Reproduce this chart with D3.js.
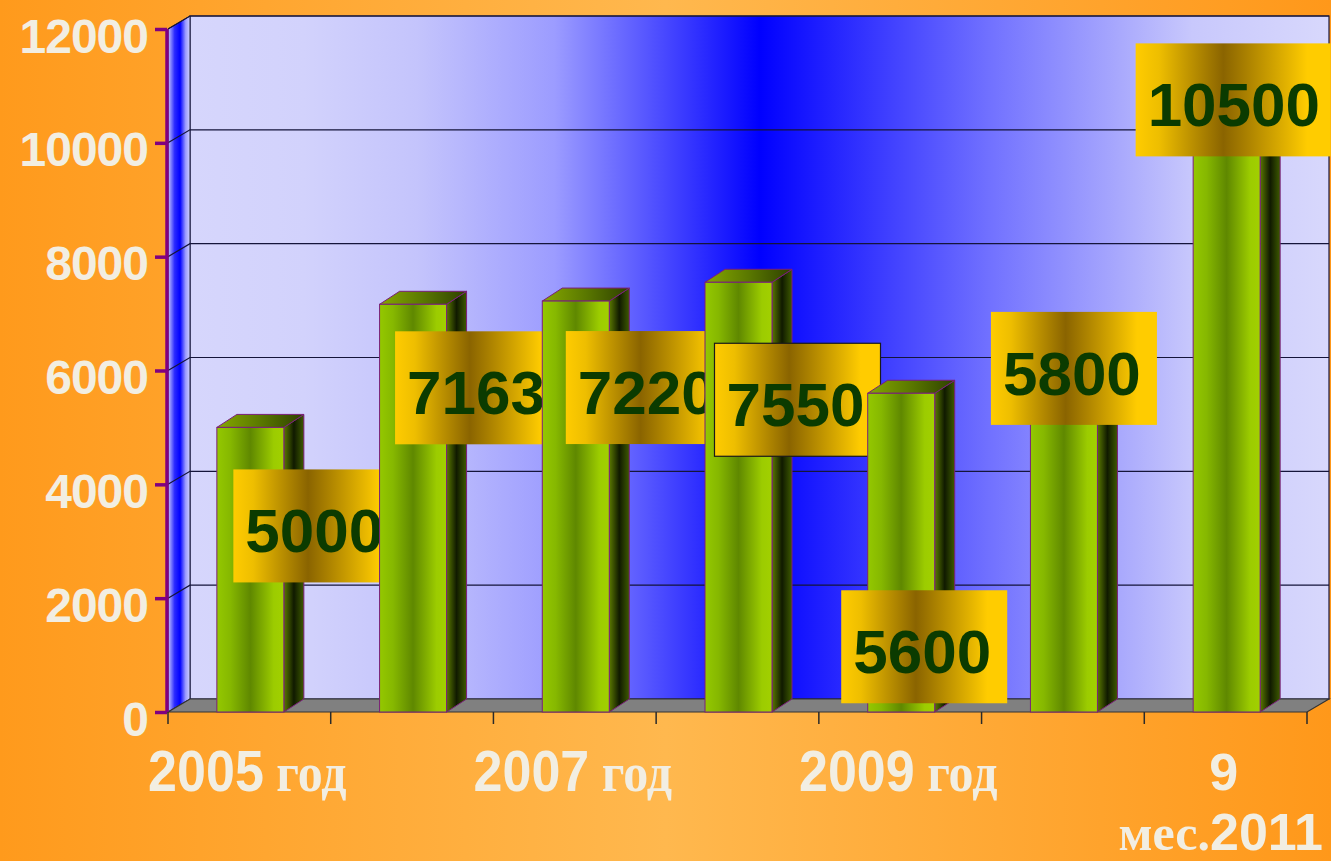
<!DOCTYPE html>
<html>
<head>
<meta charset="utf-8">
<script src="https://cdn.jsdelivr.net/npm/d3@7"></script>
<style>
  html, body { margin: 0; padding: 0; overflow: hidden; }
  svg { display: block; }
</style>
</head>
<body>
<svg id="chart" width="1331" height="861"></svg>
<script>
var categories = ["2005 год", "2006 год", "2007 год", "2008 год", "2009 год", "2010 год", "9 мес.2011"];
var values = [5000, 7163, 7220, 7550, 5600, 5800, 10500];
var yTicks = [0, 2000, 4000, 6000, 8000, 10000, 12000];
var shownCategories = ["2005 год", "2007 год", "2009 год", "9 мес.2011"];

// hand-placed data labels: shift of the box from the top of its bar
var labelShift = [[-17, 42], [-18, 27], [-10, 30], [-24, 61], [-60, 197], [-73, -70], [-91, -71]];
var labelBorder = [false, false, false, true, false, false, false];

var CHART = {
    W: 1331,
    H: 861,
    left: 168,
    right: 1307,
    top: 29,
    bottom: 712,
    depthX: 22,
    depthY: 13,
    barDX: 20,
    barDY: 13,
    barW: 67,
    boxH: 113,
    textColor: "#f2eee2",
    labelColor: "#0b3b00",
    purple: "#800080"
};

var svg = d3.select("#chart");
var defs = svg.append("defs");

function linGrad(id, stops) {
    var g = defs.append("linearGradient")
        .attr("id", id)
        .attr("x1", "0").attr("y1", "0")
        .attr("x2", "1").attr("y2", "0");
    stops.forEach(function (s) {
        g.append("stop").attr("offset", s[0]).attr("stop-color", s[1]);
    });
}

linGrad("bgGrad", [[0, "#ff9a1c"], [0.5, "#ffb84e"], [1, "#ff981a"]]);
linGrad("wallGrad", [[0, "#d6d6fc"], [0.1, "#d2d2fc"], [0.2, "#c4c4fc"], [0.32, "#9c9cff"], [0.5, "#0000ff"], [0.7, "#7070ff"], [0.88, "#c8c8fc"], [1, "#d8d8fc"]]);
linGrad("sideWallGrad", [[0, "#c8c8ff"], [0.3, "#2a2aff"], [0.55, "#0000ff"], [0.8, "#9a9aff"], [1, "#d0d0fc"]]);
linGrad("barFront", [[0, "#94c800"], [0.2, "#86b800"], [0.5, "#5f8800"], [0.85, "#9ccc00"], [1, "#a2d000"]]);
linGrad("barSide", [[0, "#5a7800"], [0.5, "#101a00"], [1, "#3e5a00"]]);
linGrad("barTop", [[0, "#86a800"], [0.5, "#5a7800"], [1, "#2e4000"]]);
linGrad("boxGrad", [[0, "#ffcc00"], [0.12, "#eebe00"], [0.45, "#8a6400"], [0.88, "#ffcc00"], [1, "#ffcc00"]]);

svg.append("rect")
    .attr("width", CHART.W)
    .attr("height", CHART.H)
    .attr("fill", "url(#bgGrad)");

var x = d3.scaleBand()
    .domain(categories)
    .range([CHART.left, CHART.right])
    .padding(0);

var y = d3.scaleLinear()
    .domain([0, 12000])
    .range([CHART.bottom, CHART.top]);

var dx = CHART.depthX, dy = CHART.depthY;
var gBack = svg.append("g");

// back wall
gBack.append("rect")
    .attr("x", CHART.left + dx)
    .attr("y", y(12000) - dy)
    .attr("width", CHART.right - CHART.left)
    .attr("height", y(0) - y(12000))
    .attr("fill", "url(#wallGrad)")
    .attr("stroke", "#1a1a40")
    .attr("stroke-width", 1.2);

// left side wall
gBack.append("path")
    .attr("d", "M" + CHART.left + "," + y(0) + "L" + (CHART.left + dx) + "," + (y(0) - dy) +
        "L" + (CHART.left + dx) + "," + (y(12000) - dy) + "L" + CHART.left + "," + y(12000) + "Z")
    .attr("fill", "url(#sideWallGrad)")
    .attr("stroke", "#1a1a40")
    .attr("stroke-width", 1);

// floor
gBack.append("path")
    .attr("d", "M" + CHART.left + "," + y(0) + "L" + CHART.right + "," + y(0) +
        "L" + (CHART.right + dx) + "," + (y(0) - dy) + "L" + (CHART.left + dx) + "," + (y(0) - dy) + "Z")
    .attr("fill", "#808080")
    .attr("stroke", "#333333")
    .attr("stroke-width", 1.2);

// gridlines on back wall + side wall
gBack.selectAll(".grid")
    .data(yTicks.filter(function (d) { return d > 0; }))
    .enter().append("path")
    .attr("class", "grid")
    .attr("d", function (d) {
        return "M" + CHART.left + "," + y(d) + "L" + (CHART.left + dx) + "," + (y(d) - dy) +
            "L" + (CHART.right + dx) + "," + (y(d) - dy);
    })
    .attr("fill", "none")
    .attr("stroke", "#15153a")
    .attr("stroke-width", 1.2);

// x axis ticks
var bounds = categories.map(function (c) { return x(c); }).concat([CHART.right]);
gBack.selectAll(".xtick")
    .data(bounds)
    .enter().append("line")
    .attr("x1", function (d) { return d; })
    .attr("x2", function (d) { return d; })
    .attr("y1", y(0))
    .attr("y2", y(0) + 12)
    .attr("stroke", "#2a2a2a")
    .attr("stroke-width", 1.5);

// y axis
var yAxis = d3.axisLeft(y).tickValues(yTicks).tickSize(12).tickFormat(d3.format("d"));
var gY = svg.append("g")
    .attr("transform", "translate(" + (CHART.left - 1) + ",0)")
    .call(yAxis);
gY.select(".domain")
    .attr("stroke", CHART.purple)
    .attr("stroke-width", 3.5)
    .attr("d", "M0," + y(12000) + "V" + y(0));
gY.selectAll(".tick line")
    .attr("stroke", CHART.purple)
    .attr("stroke-width", 3.5);
gY.selectAll(".tick text")
    .attr("x", -19)
    .attr("dy", 23)
    .attr("fill", CHART.textColor)
    .attr("font-family", "'Liberation Sans', Arial, sans-serif")
    .attr("font-weight", "bold")
    .attr("font-size", "48px")
    .attr("letter-spacing", "-1px");

// bars with their labels, drawn in order so the next bar covers the previous label
var barData = categories.map(function (c, i) { return { cat: c, value: values[i], i: i }; });
var bdx = CHART.barDX, bdy = CHART.barDY;

barData.forEach(function (d) {
    var x0 = x(d.cat) + (x.bandwidth() - CHART.barW) / 2 + 1;
    var x1 = x0 + CHART.barW;
    var yt = y(d.value), yb = y(0);
    var g = svg.append("g").datum(d);

    g.append("path")
        .attr("d", "M" + x1 + "," + yb + "L" + (x1 + bdx) + "," + (yb - bdy) + "L" + (x1 + bdx) + "," + (yt - bdy) + "L" + x1 + "," + yt + "Z")
        .attr("fill", "url(#barSide)")
        .attr("stroke", "#7a1f7a")
        .attr("stroke-width", 1);

    g.append("path")
        .attr("d", "M" + x0 + "," + yt + "L" + x1 + "," + yt + "L" + (x1 + bdx) + "," + (yt - bdy) + "L" + (x0 + bdx) + "," + (yt - bdy) + "Z")
        .attr("fill", "url(#barTop)")
        .attr("stroke", "#7a1f7a")
        .attr("stroke-width", 1);

    g.append("rect")
        .attr("x", x0)
        .attr("y", yt)
        .attr("width", CHART.barW)
        .attr("height", yb - yt)
        .attr("fill", "url(#barFront)")
        .attr("stroke", "#7a1f7a")
        .attr("stroke-width", 1);

    var txt = d3.format("d")(d.value);
    var boxW = txt.length > 4 ? 195 : 166;
    var bx = (x0 + x1) / 2 + labelShift[d.i][0];
    var by = yt + labelShift[d.i][1];

    g.append("rect")
        .attr("x", bx)
        .attr("y", by)
        .attr("width", boxW)
        .attr("height", CHART.boxH)
        .attr("fill", "url(#boxGrad)")
        .attr("stroke", labelBorder[d.i] ? "#1a1a1a" : "none")
        .attr("stroke-width", 1.2);

    g.append("text")
        .attr("x", bx + 12)
        .attr("y", by + 83)
        .attr("fill", CHART.labelColor)
        .attr("font-family", "'Liberation Sans', Arial, sans-serif")
        .attr("font-weight", "bold")
        .attr("font-size", "62px")
        .text(txt);
});

// category labels: digits in sans, cyrillic words in serif
function addMixed(textSel, str, lineX, lineDy) {
    var parts = str.match(/[0-9]+|[^0-9]+/g);
    parts.forEach(function (p, j) {
        var isNum = /^[0-9]+$/.test(p);
        var ts = textSel.append("tspan")
            .attr("font-family", isNum ? "'Liberation Sans', Arial, sans-serif" : "'Liberation Serif', 'Times New Roman', serif")
            .attr("font-size", isNum ? "52px" : "50px")
            .text(p);
        if (j === 0 && lineDy !== null) {
            ts.attr("x", lineX).attr("dy", lineDy);
        }
    });
}

var gX = svg.append("g");
shownCategories.forEach(function (c) {
    var cx = x(c) + x.bandwidth() / 2 - 2;
    var wrap = c.length > 8;
    var lines = wrap ? [c.slice(0, c.indexOf(" ")), c.slice(c.indexOf(" ") + 1)] : [c];
    var t = gX.append("text")
        .attr("x", 0)
        .attr("y", 0)
        .attr("text-anchor", "middle")
        .attr("fill", CHART.textColor)
        .attr("font-weight", "bold")
        .attr("transform", wrap ? "translate(" + cx + ",790)" : "translate(" + cx + ",791) scale(1,1.1)");
    lines.forEach(function (line, k) {
        addMixed(t, line, -k * 3, k > 0 ? 60 : null);
    });
});
</script>
</body>
</html>
